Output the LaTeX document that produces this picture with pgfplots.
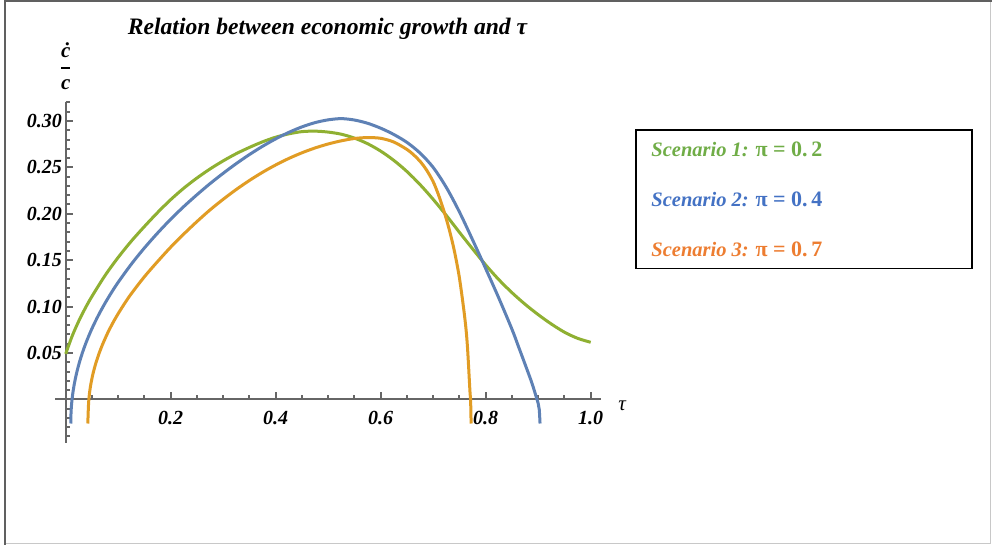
\documentclass[border=0pt]{standalone}
\usepackage{pgfplots}
\pgfplotsset{compat=1.18}
\usepackage{pgfplotstable}
\usepackage{fontspec}
\setmainfont{Liberation Serif}

\definecolor{mblue}{RGB}{94,129,181}
\definecolor{morange}{RGB}{225,156,36}
\definecolor{mgreen}{RGB}{143,176,50}
\definecolor{lgreen}{RGB}{112,173,71}
\definecolor{lblue}{RGB}{68,114,196}
\definecolor{lorange}{RGB}{237,125,49}
\definecolor{axisgray}{RGB}{102,102,102}
\definecolor{framedark}{RGB}{96,96,96}
\definecolor{framelight}{RGB}{200,200,200}

% scenario 1, pi = 0.2
\pgfplotstableread{
x y
0 0.049
0.0125 0.0685
0.025 0.0845
0.0375 0.0985
0.05 0.111
0.075 0.1335
0.1 0.153
0.125 0.1705
0.15 0.1863
0.175 0.2013
0.2 0.2152
0.225 0.2276
0.25 0.2385
0.275 0.2483
0.3 0.257
0.325 0.2648
0.35 0.2715
0.375 0.2775
0.4 0.2825
0.425 0.2861
0.45 0.2885
0.475 0.289
0.5 0.288
0.525 0.2857
0.55 0.2815
0.575 0.2755
0.6 0.2675
0.625 0.2575
0.65 0.2455
0.675 0.2314
0.7 0.2155
0.725 0.1982
0.75 0.180
0.775 0.1622
0.8 0.1448
0.825 0.1290
0.85 0.1150
0.875 0.1025
0.9 0.0913
0.925 0.0812
0.95 0.0724
0.975 0.0658
1.0 0.0615
}\scenA
% scenario 2, pi = 0.4
\pgfplotstableread{
x y
0.0097 -0.026
0.0100 -0.0169
0.0105 -0.0108
0.0115 -0.0034
0.013 0.0043
0.015 0.0121
0.018 0.0213
0.022 0.0312
0.027 0.0416
0.033 0.0522
0.04 0.0629
0.05 0.0763
0.0625 0.0908
0.075 0.1037
0.0875 0.1154
0.1 0.1262
0.125 0.1457
0.15 0.1632
0.175 0.1792
0.2 0.1941
0.225 0.2078
0.25 0.2205
0.275 0.2325
0.3 0.2436
0.325 0.2541
0.35 0.2638
0.375 0.2727
0.4 0.2807
0.425 0.2877
0.45 0.2936
0.475 0.2982
0.5 0.3012
0.525 0.3025
0.55 0.3010
0.575 0.2975
0.6 0.2922
0.625 0.2854
0.65 0.2769
0.675 0.2654
0.7 0.2499
0.725 0.2284
0.75 0.2019
0.775 0.1719
0.8 0.1409
0.825 0.1091
0.85 0.0756
0.8625 0.0568
0.875 0.0378
0.8875 0.0185
0.895 0.005
0.9 -0.0045
0.902 -0.011
0.9035 -0.026
}\scenB
% scenario 3, pi = 0.7
\pgfplotstableread{
x y
0.0421 -0.026
0.0426 -0.018
0.0432 -0.0086
0.044 -0.0008
0.0455 0.0075
0.048 0.0168
0.052 0.0277
0.057 0.0382
0.063 0.0486
0.07 0.0589
0.08 0.0716
0.09 0.0826
0.1 0.0924
0.1125 0.1036
0.125 0.1139
0.15 0.1322
0.175 0.1485
0.2 0.1640
0.225 0.1782
0.25 0.1916
0.275 0.2042
0.3 0.2156
0.325 0.2262
0.35 0.2359
0.375 0.2447
0.4 0.2526
0.425 0.2596
0.45 0.2657
0.475 0.2709
0.5 0.2752
0.525 0.2786
0.55 0.2811
0.575 0.2821
0.6 0.2813
0.625 0.2773
0.65 0.2693
0.6625 0.2636
0.675 0.2565
0.6875 0.2470
0.70 0.2345
0.71 0.2205
0.72 0.2037
0.73 0.1842
0.74 0.1607
0.75 0.1307
0.76 0.0887
0.765 0.0587
0.77 0.0087
0.7712 0.0
0.7722 -0.026
}\scenC

\begin{document}
\begin{tikzpicture}
\useasboundingbox (0,0) rectangle (496pt,272.5pt);
\fill[white] (0,0) rectangle (496pt,272.5pt);
\draw[framelight, line width=0.5pt] (495.2pt,272pt) -- (495.2pt,0.6pt) -- (2.5pt,0.6pt);
\draw[framedark, line width=1pt] (2.3pt,0) -- (2.3pt,272pt) -- (496pt,272pt);

\begin{axis}[
  at={(27.6pt,51pt)}, anchor=south west,
  scale only axis, width=273pt, height=170.3pt,
  xmin=-0.02, xmax=1.02, ymin=-0.047, ymax=0.32,
  axis lines=middle,
  axis line style={-, line width=1pt, axisgray},
  clip=false,
  xtick={0.2,0.4,0.6,0.8,1.0},
  xticklabels={0.2,0.4,0.6,0.8,1.0},
  minor xtick={0.05,0.1,0.15,0.25,0.3,0.35,0.45,0.5,0.55,0.65,0.7,0.75,0.85,0.9,0.95},
  ytick={0.05,0.10,0.15,0.20,0.25,0.30},
  yticklabels={0.05,0.10,0.15,0.20,0.25,0.30},
  minor ytick={-0.04,-0.03,-0.02,-0.01,0.01,0.02,0.03,0.04,0.06,0.07,0.08,0.09,0.11,0.12,0.13,0.14,0.16,0.17,0.18,0.19,0.21,0.22,0.23,0.24,0.26,0.27,0.28,0.29,0.31,0.32},
  tick align=inside,
  major tick length=3.6pt, minor tick length=2.2pt,
  tick style={axisgray, line width=1pt},
  tick label style={font=\fontsize{10}{12}\selectfont\bfseries\itshape},
  x tick label style={yshift=-2.2pt},
  y tick label style={xshift=1.6pt},
  every axis plot/.append style={line width=1.5pt, smooth, no markers},
]
\addplot[mgreen] table[x=x, y=y] {\scenA};
\addplot[mblue] table[x=x, y=y] {\scenB};
\addplot[morange] table[x=x, y=y] {\scenC};

\node[font=\fontsize{10.5}{12}\selectfont\itshape] at (axis cs:1.06,-0.007) {τ};
\node[font=\fontsize{10.5}{12}\selectfont\bfseries\itshape] at (axis cs:0,0.3765) {ċ};
\fill[black] (axis cs:-0.009,0.3585) rectangle (axis cs:0.009,0.3555);
\node[font=\fontsize{10.5}{12}\selectfont\bfseries\itshape] at (axis cs:0,0.339) {c};
\end{axis}

\node[anchor=base, font=\fontsize{11.8}{14}\selectfont\bfseries\itshape] at (163.75pt,255pt)
  {Relation between economic growth and τ};

\draw[black, line width=0.75pt] (318pt,207.5pt) rectangle (486pt,138.2pt);
\node[anchor=base west, inner sep=0pt, text=lgreen, font=\fontsize{10.25}{12}\selectfont\bfseries]
  at (325.5pt,194pt) {\textit{Scenario 1:} {\fontsize{11}{13}\selectfont π = 0.\,2}};
\node[anchor=base west, inner sep=0pt, text=lblue, font=\fontsize{10.25}{12}\selectfont\bfseries]
  at (325.5pt,169pt) {\textit{Scenario 2:} {\fontsize{11}{13}\selectfont π = 0.\,4}};
\node[anchor=base west, inner sep=0pt, text=lorange, font=\fontsize{10.25}{12}\selectfont\bfseries]
  at (325.5pt,144.25pt) {\textit{Scenario 3:} {\fontsize{11}{13}\selectfont π = 0.\,7}};
\end{tikzpicture}
\end{document}
